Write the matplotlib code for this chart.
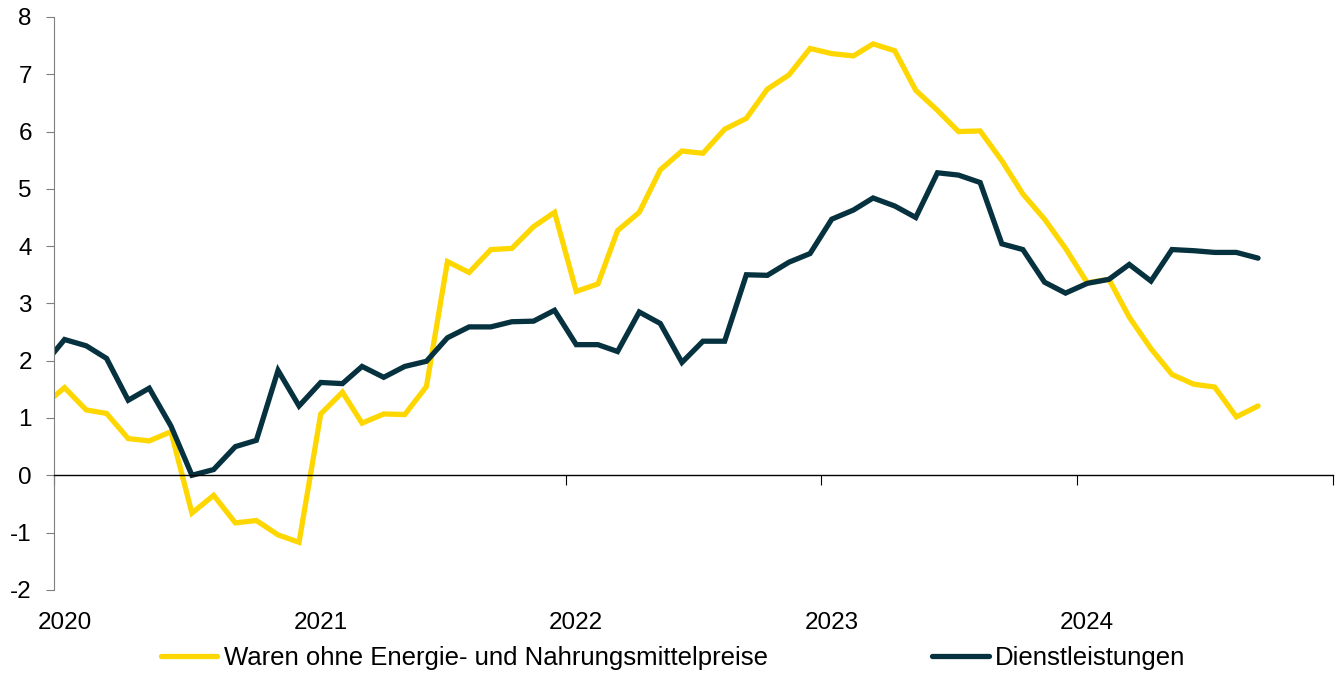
import matplotlib
matplotlib.use('Agg')
import matplotlib.pyplot as plt
import pandas as pd

plt.rcParams['font.family'] = ['Liberation Sans', 'DejaVu Sans']
plt.rcParams['axes.unicode_minus'] = False

# monthly values, Dec 2019 .. Sep 2024 (first point sits just left of the axis)
months = pd.date_range('2019-12-01', '2024-09-01', freq='MS') + pd.Timedelta(days=15)

waren = [1.21,
         1.53, 1.14, 1.08, 0.64, 0.60, 0.76, -0.66, -0.35, -0.83, -0.79, -1.04, -1.17,
         1.07, 1.45, 0.91, 1.07, 1.06, 1.55, 3.73, 3.54, 3.94, 3.96, 4.34, 4.59,
         3.21, 3.34, 4.27, 4.59, 5.33, 5.66, 5.62, 6.04, 6.23, 6.74, 6.99, 7.45,
         7.36, 7.32, 7.53, 7.41, 6.72, 6.37, 6.00, 6.01, 5.49, 4.91, 4.47, 3.96,
         3.36, 3.42, 2.76, 2.21, 1.76, 1.59, 1.54, 1.02, 1.21]

dienst = [1.91,
          2.37, 2.26, 2.04, 1.31, 1.52, 0.86, 0.00, 0.10, 0.50, 0.61, 1.83, 1.21,
          1.62, 1.60, 1.90, 1.71, 1.90, 1.99, 2.40, 2.59, 2.59, 2.68, 2.69, 2.88,
          2.28, 2.28, 2.16, 2.85, 2.65, 1.97, 2.34, 2.34, 3.50, 3.49, 3.72, 3.87,
          4.47, 4.63, 4.84, 4.70, 4.50, 5.28, 5.24, 5.11, 4.04, 3.94, 3.37, 3.18,
          3.35, 3.42, 3.68, 3.39, 3.94, 3.92, 3.89, 3.89, 3.79]

years = ['2020', '2021', '2022', '2023', '2024']
year_starts = pd.to_datetime(['2020-01-01', '2021-01-01', '2022-01-01', '2023-01-01', '2024-01-01', '2025-01-01'])
label_pos = pd.to_datetime([y + '-01-16' for y in years])

yellow = '#FFD700'
dark = '#06323F'

fig = plt.figure(figsize=(13.41, 6.78), dpi=100)
ax = fig.add_axes([0.0403, 0.130, 0.9537, 0.845])

ax.plot(months, waren, color=yellow, lw=3.8, label='Waren ohne Energie- und Nahrungsmittelpreise',
        solid_capstyle='round', solid_joinstyle='miter')
ax.plot(months, dienst, color=dark, lw=3.8, label='Dienstleistungen',
        solid_capstyle='round', solid_joinstyle='miter')

ax.set_xlim(pd.Timestamp('2020-01-01'), pd.Timestamp('2025-01-01'))
ax.set_ylim(-2, 8)
ax.set_yticks(range(-2, 9))

ax.spines['top'].set_visible(False)
ax.spines['right'].set_visible(False)
ax.spines['left'].set_color('#7f7f7f')
ax.spines['bottom'].set_position(('data', 0))
ax.spines['bottom'].set_color('black')
ax.spines['bottom'].set_linewidth(1.0)

ax.set_xticks(year_starts)
ax.tick_params(axis='x', direction='out', length=7, color='black', labelbottom=False)
ax.tick_params(axis='y', direction='out', length=6, color='#7f7f7f', pad=10, labelsize=17.5)

sec = ax.secondary_xaxis('bottom')
sec.set_xticks(label_pos, labels=years)
sec.tick_params(length=0, pad=16, labelsize=17.5)
sec.spines['bottom'].set_visible(False)

fig.legend(loc='lower center', bbox_to_anchor=(0.502, -0.022), ncol=2, frameon=False,
           fontsize=18.5, handlelength=2.2, handletextpad=0.25, columnspacing=6.4)

fig.savefig('out.png', dpi=100)
